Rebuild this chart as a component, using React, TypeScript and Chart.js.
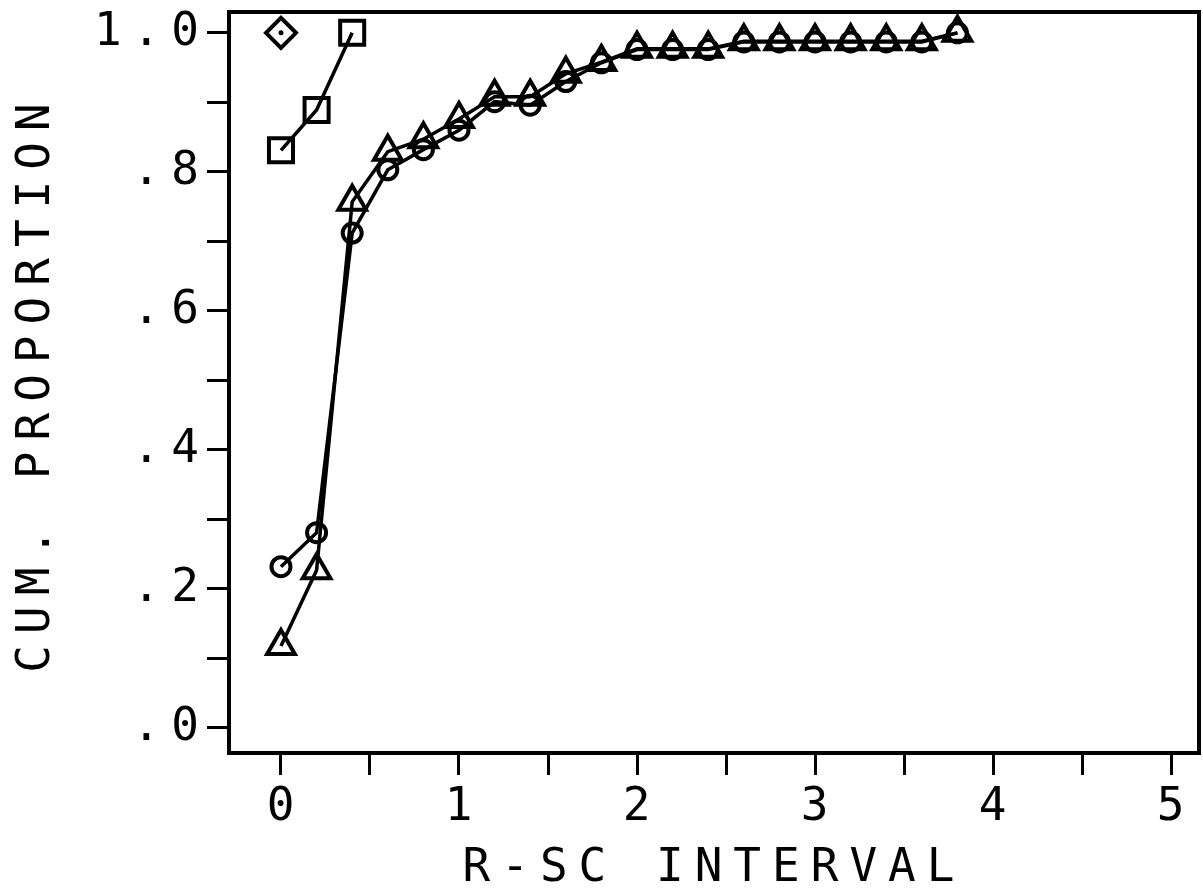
import React, { useEffect, useRef } from 'react';
import { Chart, registerables } from 'chart.js';

Chart.register(...registerables);

// ---- data ----
const xValues = [0, 0.2, 0.4, 0.6, 0.8, 1.0, 1.2, 1.4, 1.6, 1.8, 2.0, 2.2, 2.4, 2.6, 2.8, 3.0, 3.2, 3.4, 3.6, 3.8];
const circleValues = [0.232, 0.281, 0.712, 0.803, 0.832, 0.86, 0.901, 0.896, 0.93, 0.957, 0.976, 0.976, 0.976, 0.987, 0.987, 0.987, 0.987, 0.987, 0.987, 1.0];
const triangleValues = [0.118, 0.227, 0.757, 0.829, 0.847, 0.876, 0.908, 0.908, 0.941, 0.958, 0.977, 0.977, 0.977, 0.988, 0.988, 0.988, 0.988, 0.988, 0.988, 1.0];
const squareX = [0, 0.2, 0.4];
const squareValues = [0.831, 0.889, 1.0];
const diamondX = [0];
const diamondValues = [1.0];

const xTickValues = [0, 0.5, 1, 1.5, 2, 2.5, 3, 3.5, 4, 4.5, 5];
const xTickLabels = ['0', '', '1', '', '2', '', '3', '', '4', '', '5'];
const yTickValues = [0, 0.1, 0.2, 0.3, 0.4, 0.5, 0.6, 0.7, 0.8, 0.9, 1.0];
const yTickLabels = ['.0', '', '.2', '', '.4', '', '.6', '', '.8', '', '1.0'];

const xTitle = 'R-SC INTERVAL';
const yTitle = 'CUM. PROPORTION';

const FONT = { family: "'DejaVu Sans Mono', monospace", size: 46, lineHeight: 1 };

const toPoints = (xs: number[], ys: number[]) => xs.map((x, i) => ({ x, y: ys[i] }));

const plotterPlugin = {
  id: 'plotter',
  beforeUpdate(chart: any) {
    chart.ctx.letterSpacing = '11px';
  },
  beforeDraw(chart: any) {
    chart.ctx.letterSpacing = '11px';
  },
  afterDraw(chart: any) {
    const { ctx, chartArea } = chart;
    ctx.save();
    ctx.strokeStyle = '#000';
    ctx.lineWidth = 4;
    ctx.strokeRect(chartArea.left, chartArea.top, chartArea.right - chartArea.left, chartArea.bottom - chartArea.top);
    ctx.restore();
  },
};

const noScalePadding = (scale: any) => {
  scale.paddingLeft = 0;
  scale.paddingRight = 0;
  scale.paddingTop = 0;
  scale.paddingBottom = 0;
};

export default function App() {
  const canvasRef = useRef<HTMLCanvasElement | null>(null);

  useEffect(() => {
    if (!canvasRef.current) return;
    const line = {
      showLine: true,
      borderColor: '#000',
      borderWidth: 3.5,
      pointBorderColor: '#000',
      pointBackgroundColor: 'rgba(0,0,0,0)',
      pointBorderWidth: 4,
    };
    const chart = new Chart(canvasRef.current, {
      type: 'scatter',
      data: {
        datasets: [
          { ...line, label: 'circles', data: toPoints(xValues, circleValues), pointStyle: 'circle', pointRadius: 9.5 },
          { ...line, label: 'triangles', data: toPoints(xValues, triangleValues), pointStyle: 'triangle', pointRadius: 16 },
          { ...line, label: 'squares', data: toPoints(squareX, squareValues), pointStyle: 'rect', pointRadius: 17 },
          { ...line, showLine: false, label: 'diamond', data: toPoints(diamondX, diamondValues), pointStyle: 'rectRot', pointRadius: 15 },
          {
            label: 'diamond centre',
            data: toPoints(diamondX, diamondValues),
            showLine: false,
            pointStyle: 'circle',
            pointRadius: 2.5,
            pointBorderWidth: 0,
            pointBackgroundColor: '#000',
          },
        ],
      },
      options: {
        responsive: false,
        animation: false,
        events: [],
        layout: { autoPadding: false, padding: { top: 12, right: 4, bottom: 0, left: 0 } },
        plugins: { legend: { display: false }, tooltip: { enabled: false }, title: { display: false } },
        elements: { line: { tension: 0 } },
        scales: {
          x: {
            type: 'linear',
            position: 'bottom',
            min: -0.292,
            max: 5.157,
            afterBuildTicks: (scale: any) => {
              scale.ticks = xTickValues.map((v) => ({ value: v }));
            },
            afterFit: (scale: any) => {
              scale.height = 139;
              noScalePadding(scale);
            },
            ticks: {
              autoSkip: false,
              maxRotation: 0,
              color: '#000',
              font: FONT,
              padding: 10,
              labelOffset: 5,
              callback: (_v: any, i: number) => xTickLabels[i],
            },
            grid: { drawOnChartArea: false, drawTicks: true, tickLength: 22, tickWidth: 3, tickColor: '#000' },
            border: { display: false },
            title: { display: true, text: xTitle, color: '#000', font: FONT, padding: { top: 0, bottom: 0 } },
          },
          y: {
            type: 'linear',
            position: 'left',
            min: -0.036,
            max: 1.03,
            afterBuildTicks: (scale: any) => {
              scale.ticks = yTickValues.map((v) => ({ value: v }));
            },
            afterFit: (scale: any) => {
              scale.width = 229;
              noScalePadding(scale);
            },
            ticks: {
              autoSkip: false,
              color: '#000',
              font: FONT,
              padding: -3,
              callback: (_v: any, i: number) => yTickLabels[i],
            },
            grid: { drawOnChartArea: false, drawTicks: true, tickLength: 22, tickWidth: 3, tickColor: '#000' },
            border: { display: false },
            title: { display: true, text: yTitle, color: '#000', font: FONT, padding: { top: 14, bottom: 0 } },
          },
        },
      },
      plugins: [plotterPlugin],
    } as any);
    return () => chart.destroy();
  }, []);

  return (
    <div style={{ position: 'absolute', left: 0, top: 0, width: 1203, height: 892, background: '#fff' }}>
      <canvas ref={canvasRef} width={1203} height={892} style={{ display: 'block' }} />
    </div>
  );
}
